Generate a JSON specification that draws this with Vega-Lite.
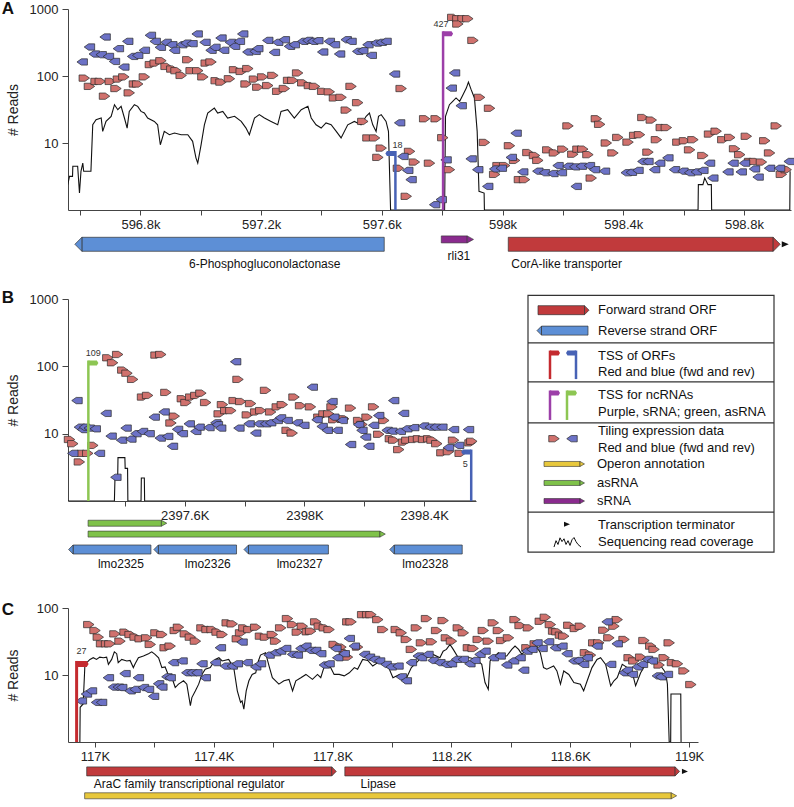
{
"$schema": "https://vega.github.io/schema/vega-lite/v6.json",
"background": "white",
"padding": {"left": 1, "top": 0, "right": 2, "bottom": 2},
"autosize": {"type": "pad"},
"bounds": "flush",
"spacing": 0,
"config": {
  "view": {"stroke": null},
  "font": "Liberation Sans",
  "axis": {"grid": false, "domainColor": "#444", "tickColor": "#444", "labelColor": "#222", "titleColor": "#222"},
  "axisY": {"tickSize": 6, "labelPadding": 4, "labelFontSize": 13, "titleFontSize": 14, "titleFontWeight": "normal", "titlePadding": 9},
  "axisX": {"tickSize": 5, "labelPadding": 3, "labelFontSize": 13}
},
"datasets": {
  "A_mk": [
    {"p":596614,"r":93,"s":"+"},{"p":596631,"r":70,"s":"+"},{"p":596653,"r":83,"s":"+"},{"p":596667,"r":83,"s":"+"},{"p":596681,"r":50,"s":"+"},{"p":596700,"r":83,"s":"+"},{"p":596719,"r":65,"s":"+"},{"p":596727,"r":90,"s":"+"},{"p":596745,"r":97,"s":"+"},{"p":596763,"r":56,"s":"+"},{"p":596780,"r":76,"s":"+"},{"p":596791,"r":76,"s":"+"},{"p":596813,"r":97,"s":"+"},{"p":596833,"r":148,"s":"+"},{"p":596849,"r":156,"s":"+"},{"p":596868,"r":169,"s":"+"},{"p":596885,"r":139,"s":"+"},{"p":596904,"r":127,"s":"+"},{"p":596918,"r":120,"s":"+"},{"p":596935,"r":102,"s":"+"},{"p":596957,"r":175,"s":"+"},{"p":596968,"r":120,"s":"+"},{"p":596990,"r":120,"s":"+"},{"p":597007,"r":97,"s":"+"},{"p":597018,"r":156,"s":"+"},{"p":597034,"r":162,"s":"+"},{"p":597051,"r":85,"s":"+"},{"p":597067,"r":81,"s":"+"},{"p":597095,"r":91,"s":"+"},{"p":597112,"r":124,"s":"+"},{"p":597134,"r":117,"s":"+"},{"p":597156,"r":129,"s":"+"},{"p":597150,"r":76,"s":"+"},{"p":597178,"r":90,"s":"+"},{"p":597189,"r":68,"s":"+"},{"p":597205,"r":97,"s":"+"},{"p":597222,"r":72,"s":"+"},{"p":597239,"r":102,"s":"+"},{"p":597255,"r":59,"s":"+"},{"p":597277,"r":65,"s":"+"},{"p":597291,"r":86,"s":"+"},{"p":597305,"r":86,"s":"+"},{"p":597321,"r":111,"s":"+"},{"p":597338,"r":79,"s":"+"},{"p":597360,"r":72,"s":"+"},{"p":597377,"r":70,"s":"+"},{"p":597404,"r":59,"s":"+"},{"p":597426,"r":58,"s":"+"},{"p":597443,"r":47,"s":"+"},{"p":597465,"r":48,"s":"+"},{"p":597482,"r":31,"s":"+"},{"p":597498,"r":70,"s":"+"},{"p":597520,"r":40,"s":"+"},{"p":597537,"r":21,"s":"+"},{"p":597554,"r":11.9,"s":"+"},{"p":597576,"r":11.9,"s":"+"},{"p":597598,"r":8.4,"s":"+"},{"p":597587,"r":6.1,"s":"+"},{"p":597655,"r":4.2,"s":"+"},
    {"p":597835,"r":750,"s":"+"},{"p":597852,"r":716,"s":"+"},{"p":597869,"r":716,"s":"+"},{"p":597885,"r":716,"s":"+"},{"p":597852,"r":597,"s":"+"},{"p":597902,"r":340,"s":"+"},{"p":597664,"r":65,"s":"+"},{"p":597742,"r":23,"s":"+"},{"p":597780,"r":23,"s":"+"},{"p":597924,"r":48,"s":"+"},{"p":597957,"r":33,"s":"+"},{"p":597802,"r":12,"s":"+"},{"p":597692,"r":7.5,"s":"+"},{"p":597708,"r":5.2,"s":"+"},{"p":597758,"r":5.0,"s":"+"},{"p":597940,"r":10.2,"s":"+"},{"p":597824,"r":4.0,"s":"+"},{"p":597681,"r":1.6,"s":"+"},{"p":598217,"r":18,"s":"+"},{"p":598311,"r":23,"s":"+"},{"p":598322,"r":19,"s":"+"},{"p":598465,"r":24,"s":"+"},{"p":598493,"r":22,"s":"+"},{"p":598526,"r":17,"s":"+"},{"p":598543,"r":17,"s":"+"},{"p":598023,"r":9.1,"s":"+"},{"p":598084,"r":7.2,"s":"+"},{"p":598106,"r":6.5,"s":"+"},{"p":598150,"r":7.9,"s":"+"},{"p":598172,"r":7.1,"s":"+"},{"p":598200,"r":8.1,"s":"+"},{"p":598233,"r":6.8,"s":"+"},{"p":598250,"r":8.1,"s":"+"},{"p":598266,"r":8.1,"s":"+"},{"p":598283,"r":6.7,"s":"+"},{"p":598294,"r":3.0,"s":"+"},{"p":598344,"r":10,"s":"+"},{"p":598366,"r":7.1,"s":"+"},{"p":598382,"r":12.1,"s":"+"},{"p":598416,"r":10.3,"s":"+"},{"p":598438,"r":13,"s":"+"},{"p":598454,"r":13.3,"s":"+"},{"p":598482,"r":7.3,"s":"+"},{"p":598510,"r":11.2,"s":"+"},{"p":598581,"r":10.3,"s":"+"},{"p":598603,"r":10.8,"s":"+"},{"p":598631,"r":11.2,"s":"+"},{"p":598620,"r":7.9,"s":"+"},{"p":598664,"r":6.5,"s":"+"},{"p":598686,"r":13.6,"s":"+"},{"p":598708,"r":15,"s":"+"},{"p":598730,"r":11.2,"s":"+"},{"p":598753,"r":12.1,"s":"+"},{"p":598769,"r":8.2,"s":"+"},{"p":598786,"r":6.7,"s":"+"},{"p":598808,"r":12.6,"s":"+"},{"p":598819,"r":5.3,"s":"+"},{"p":598835,"r":5.3,"s":"+"},{"p":598858,"r":5.2,"s":"+"},{"p":598869,"r":10.8,"s":"+"},{"p":598885,"r":7.1,"s":"+"},{"p":598907,"r":18,"s":"+"},{"p":598924,"r":3.4,"s":"+"},{"p":598940,"r":4.0,"s":"+"},{"p":598056,"r":2.84,"s":"+"},{"p":598073,"r":2.84,"s":"+"},{"p":597985,"r":4.6,"s":"+"},{"p":598007,"r":4.6,"s":"+"},{"p":598040,"r":5.5,"s":"+"},{"p":598117,"r":5.5,"s":"+"},{"p":597974,"r":3.4,"s":"+"},
    {"p":596607,"r":162,"s":"-"},{"p":596631,"r":271,"s":"-"},{"p":596647,"r":213,"s":"-"},{"p":596670,"r":208,"s":"-"},{"p":596683,"r":382,"s":"-"},{"p":596694,"r":196,"s":"-"},{"p":596714,"r":165,"s":"-"},{"p":596727,"r":256,"s":"-"},{"p":596745,"r":136,"s":"-"},{"p":596758,"r":329,"s":"-"},{"p":596774,"r":196,"s":"-"},{"p":596791,"r":203,"s":"-"},{"p":596813,"r":242,"s":"-"},{"p":596833,"r":405,"s":"-"},{"p":596849,"r":329,"s":"-"},{"p":596866,"r":268,"s":"-"},{"p":596885,"r":318,"s":"-"},{"p":596904,"r":293,"s":"-"},{"p":596913,"r":242,"s":"-"},{"p":596937,"r":293,"s":"-"},{"p":596951,"r":310,"s":"-"},{"p":596971,"r":304,"s":"-"},{"p":596988,"r":424,"s":"-"},{"p":597014,"r":318,"s":"-"},{"p":597034,"r":242,"s":"-"},{"p":597047,"r":268,"s":"-"},{"p":597067,"r":369,"s":"-"},{"p":597076,"r":242,"s":"-"},{"p":597098,"r":318,"s":"-"},{"p":597112,"r":277,"s":"-"},{"p":597128,"r":329,"s":"-"},{"p":597139,"r":424,"s":"-"},{"p":597156,"r":228,"s":"-"},{"p":597180,"r":233,"s":"-"},{"p":597189,"r":256,"s":"-"},{"p":597222,"r":340,"s":"-"},{"p":597244,"r":225,"s":"-"},{"p":597255,"r":318,"s":"-"},{"p":597277,"r":348,"s":"-"},{"p":597294,"r":277,"s":"-"},{"p":597310,"r":293,"s":"-"},{"p":597338,"r":329,"s":"-"},{"p":597355,"r":340,"s":"-"},{"p":597371,"r":329,"s":"-"},{"p":597388,"r":337,"s":"-"},{"p":597404,"r":228,"s":"-"},{"p":597426,"r":329,"s":"-"},{"p":597443,"r":293,"s":"-"},{"p":597460,"r":213,"s":"-"},{"p":597482,"r":348,"s":"-"},{"p":597498,"r":329,"s":"-"},{"p":597520,"r":233,"s":"-"},{"p":597537,"r":239,"s":"-"},{"p":597554,"r":293,"s":"-"},{"p":597565,"r":203,"s":"-"},{"p":597581,"r":310,"s":"-"},{"p":597598,"r":318,"s":"-"},{"p":597614,"r":329,"s":"-"},
    {"p":597642,"r":107,"s":"-"},{"p":597659,"r":20,"s":"-"},{"p":597670,"r":6.3,"s":"-"},{"p":597686,"r":3.9,"s":"-"},{"p":597697,"r":2.84,"s":"-"},{"p":597841,"r":111,"s":"-"},{"p":597830,"r":66,"s":"-"},{"p":597863,"r":36,"s":"-"},{"p":597813,"r":5.6,"s":"-"},{"p":597896,"r":5.8,"s":"-"},{"p":597918,"r":4.0,"s":"-"},{"p":597951,"r":2.25,"s":"-"},{"p":598045,"r":14,"s":"-"},{"p":598029,"r":6.1,"s":"-"},{"p":598067,"r":3.7,"s":"-"},{"p":597974,"r":4.1,"s":"-"},{"p":597996,"r":4.2,"s":"-"},{"p":598117,"r":3.8,"s":"-"},{"p":598139,"r":3.6,"s":"-"},{"p":598167,"r":3.5,"s":"-"},{"p":598184,"r":4.6,"s":"-"},{"p":598195,"r":3.6,"s":"-"},{"p":598217,"r":4.5,"s":"-"},{"p":598239,"r":4.4,"s":"-"},{"p":598261,"r":4.5,"s":"-"},{"p":598288,"r":4.6,"s":"-"},{"p":598305,"r":4.0,"s":"-"},{"p":598338,"r":3.8,"s":"-"},{"p":598244,"r":2.25,"s":"-"},{"p":597775,"r":1.2,"s":"-"},{"p":597797,"r":1.43,"s":"-"},{"p":598410,"r":3.6,"s":"-"},{"p":598427,"r":3.65,"s":"-"},{"p":598449,"r":3.9,"s":"-"},{"p":598465,"r":5.3,"s":"-"},{"p":598482,"r":5.3,"s":"-"},{"p":598504,"r":4.0,"s":"-"},{"p":598521,"r":5.0,"s":"-"},{"p":598548,"r":6.0,"s":"-"},{"p":598570,"r":4.0,"s":"-"},{"p":598598,"r":3.8,"s":"-"},{"p":598620,"r":3.6,"s":"-"},{"p":598642,"r":3.7,"s":"-"},{"p":598664,"r":3.9,"s":"-"},{"p":598686,"r":5.0,"s":"-"},{"p":598697,"r":3.0,"s":"-"},{"p":598747,"r":3.7,"s":"-"},{"p":598764,"r":5.0,"s":"-"},{"p":598791,"r":3.7,"s":"-"},{"p":598802,"r":5.0,"s":"-"},{"p":598835,"r":4.1,"s":"-"},{"p":598847,"r":3.1,"s":"-"},{"p":598885,"r":4.2,"s":"-"},{"p":598918,"r":4.2,"s":"-"},{"p":598950,"r":5.3,"s":"-"}
  ],
  "A_cov": [
    {"p":596559,"r":2.39},{"p":596565,"r":3.18},{"p":596575,"r":3.18},{"p":596576,"r":4.49},{"p":596592,"r":4.49},{"p":596598,"r":1.79},{"p":596603,"r":3.78},{"p":596609,"r":5.0},{"p":596612,"r":3.78},{"p":596636,"r":3.78},{"p":596642,"r":18.7},{"p":596653,"r":22.3},{"p":596670,"r":23.6},{"p":596675,"r":14.9},{"p":596686,"r":21.0},{"p":596703,"r":25},{"p":596714,"r":37.3},{"p":596725,"r":31.4},{"p":596736,"r":35.2},{"p":596747,"r":23.6},{"p":596756,"r":16.7},{"p":596763,"r":29.6},{"p":596780,"r":37.3},{"p":596791,"r":35.2},{"p":596802,"r":29.6},{"p":596813,"r":28},{"p":596824,"r":23.6},{"p":596846,"r":21},{"p":596857,"r":18.7},{"p":596866,"r":9.4},{"p":596879,"r":14.9},{"p":596896,"r":13.3},{"p":596913,"r":14.1},{"p":596935,"r":13.3},{"p":596957,"r":13.3},{"p":596973,"r":10.6},{"p":596984,"r":6.0},{"p":596990,"r":5.0},{"p":597001,"r":9.4},{"p":597012,"r":18.7},{"p":597023,"r":28},{"p":597045,"r":33.2},{"p":597056,"r":28},{"p":597073,"r":29.6},{"p":597089,"r":23.6},{"p":597112,"r":25},{"p":597134,"r":21},{"p":597150,"r":16.7},{"p":597161,"r":13.3},{"p":597178,"r":23.6},{"p":597194,"r":26.5},{"p":597211,"r":23.6},{"p":597233,"r":21},{"p":597255,"r":18.7},{"p":597266,"r":29.6},{"p":597288,"r":31.4},{"p":597310,"r":23.6},{"p":597333,"r":31.4},{"p":597355,"r":35.2},{"p":597366,"r":23.6},{"p":597382,"r":18.7},{"p":597399,"r":16.7},{"p":597415,"r":19.9},{"p":597432,"r":18.7},{"p":597449,"r":14.9},{"p":597465,"r":11.9},{"p":597487,"r":18.7},{"p":597509,"r":21},{"p":597531,"r":18.7},{"p":597548,"r":25},{"p":597559,"r":28},{"p":597570,"r":18.7},{"p":597581,"r":14.9},{"p":597589,"r":25},{"p":597598,"r":26.5},{"p":597614,"r":21},{"p":597622,"r":14.9},{"p":597629,"r":1},{"p":597808,"r":1},{"p":597811,"r":25},{"p":597824,"r":37.3},{"p":597835,"r":41.9},{"p":597846,"r":47},{"p":597858,"r":41.9},{"p":597869,"r":52.6},{"p":597880,"r":66},{"p":597887,"r":81},{"p":597896,"r":62.5},{"p":597907,"r":47},{"p":597916,"r":14.9},{"p":597922,"r":1.9},{"p":597939,"r":1.79},{"p":597940,"r":1},{"p":598648,"r":1},{"p":598649,"r":2.39},{"p":598664,"r":2.39},{"p":598670,"r":3.0},{"p":598681,"r":2.39},{"p":598692,"r":2.39},{"p":598693,"r":1},{"p":598952,"r":1},{"p":598953,"r":3.78}
  ],
  "B_mk": [
    {"p":2397215,"r":8.2,"s":"+"},{"p":2397226,"r":7.1,"s":"+"},{"p":2397259,"r":5.1,"s":"+"},{"p":2397276,"r":5.1,"s":"+"},{"p":2397248,"r":3.8,"s":"+"},{"p":2397293,"r":6.7,"s":"+"},{"p":2397343,"r":134,"s":"+"},{"p":2397359,"r":113,"s":"+"},{"p":2397376,"r":150,"s":"+"},{"p":2397393,"r":88,"s":"+"},{"p":2397407,"r":79,"s":"+"},{"p":2397426,"r":64,"s":"+"},{"p":2397459,"r":35,"s":"+"},{"p":2397476,"r":37,"s":"+"},{"p":2397504,"r":147,"s":"+"},{"p":2397520,"r":150,"s":"+"},{"p":2397537,"r":41,"s":"+"},{"p":2397554,"r":14.4,"s":"+"},{"p":2397565,"r":18.2,"s":"+"},{"p":2397592,"r":33,"s":"+"},{"p":2397604,"r":29,"s":"+"},{"p":2397620,"r":35,"s":"+"},{"p":2397637,"r":37,"s":"+"},{"p":2397654,"r":40,"s":"+"},{"p":2397670,"r":29,"s":"+"},{"p":2397726,"r":27,"s":"+"},{"p":2397715,"r":19.7,"s":"+"},{"p":2397737,"r":22,"s":"+"},{"p":2397754,"r":22,"s":"+"},{"p":2397765,"r":31,"s":"+"},{"p":2397778,"r":64,"s":"+"},{"p":2397787,"r":30,"s":"+"},{"p":2397809,"r":19,"s":"+"},{"p":2397820,"r":28,"s":"+"},{"p":2397837,"r":21,"s":"+"},{"p":2397854,"r":22,"s":"+"},{"p":2397870,"r":44,"s":"+"},{"p":2397887,"r":21,"s":"+"},{"p":2397909,"r":25,"s":"+"},{"p":2397926,"r":27,"s":"+"},{"p":2397942,"r":11.2,"s":"+"},{"p":2397959,"r":10.2,"s":"+"},{"p":2397965,"r":35,"s":"+"},{"p":2397987,"r":26,"s":"+"},{"p":2398020,"r":25,"s":"+"},{"p":2398048,"r":17.6,"s":"+"},{"p":2398065,"r":19.7,"s":"+"},{"p":2398081,"r":19.7,"s":"+"},{"p":2398092,"r":25,"s":"+"},{"p":2398098,"r":16.1,"s":"+"},{"p":2398126,"r":16.3,"s":"+"},{"p":2398131,"r":16.6,"s":"+"},{"p":2398154,"r":24,"s":"+"},{"p":2398181,"r":15.7,"s":"+"},{"p":2398192,"r":13.7,"s":"+"},{"p":2398209,"r":17.6,"s":"+"},{"p":2398231,"r":25,"s":"+"},{"p":2398248,"r":9.8,"s":"+"},{"p":2398265,"r":15.7,"s":"+"},{"p":2398287,"r":8.4,"s":"+"},{"p":2398298,"r":8.0,"s":"+"},{"p":2398315,"r":5.8,"s":"+"},{"p":2398331,"r":7.5,"s":"+"},{"p":2398342,"r":8.0,"s":"+"},{"p":2398365,"r":8.2,"s":"+"},{"p":2398381,"r":8.4,"s":"+"},{"p":2398398,"r":8.2,"s":"+"},{"p":2398415,"r":8.4,"s":"+"},{"p":2398426,"r":8.0,"s":"+"},{"p":2398442,"r":7.1,"s":"+"},{"p":2398459,"r":5.2,"s":"+"},{"p":2398481,"r":5.4,"s":"+"},{"p":2398498,"r":8.0,"s":"+"},{"p":2398520,"r":5.1,"s":"+"},{"p":2398553,"r":7.3,"s":"+"},{"p":2398559,"r":7.7,"s":"+"},
    {"p":2397240,"r":31,"s":"-"},{"p":2397248,"r":12.5,"s":"-"},{"p":2397259,"r":11.5,"s":"-"},{"p":2397265,"r":12.5,"s":"-"},{"p":2397281,"r":12.1,"s":"-"},{"p":2397301,"r":11.8,"s":"-"},{"p":2397226,"r":5.1,"s":"-"},{"p":2397315,"r":5.1,"s":"-"},{"p":2397337,"r":20,"s":"-"},{"p":2397354,"r":9.2,"s":"-"},{"p":2397370,"r":2.25,"s":"-"},{"p":2397389,"r":8.0,"s":"-"},{"p":2397404,"r":12.1,"s":"-"},{"p":2397420,"r":8.3,"s":"-"},{"p":2397437,"r":10.0,"s":"-"},{"p":2397459,"r":10.8,"s":"-"},{"p":2397481,"r":10.0,"s":"-"},{"p":2397498,"r":17.6,"s":"-"},{"p":2397518,"r":8.6,"s":"-"},{"p":2397531,"r":21,"s":"-"},{"p":2397543,"r":9.1,"s":"-"},{"p":2397559,"r":6.5,"s":"-"},{"p":2397576,"r":11.6,"s":"-"},{"p":2397592,"r":10.0,"s":"-"},{"p":2397615,"r":14.0,"s":"-"},{"p":2397637,"r":10.8,"s":"-"},{"p":2397648,"r":12.5,"s":"-"},{"p":2397681,"r":12.3,"s":"-"},{"p":2397704,"r":14.5,"s":"-"},{"p":2397709,"r":13.6,"s":"-"},{"p":2397720,"r":12.1,"s":"-"},{"p":2397770,"r":117,"s":"-"},{"p":2397781,"r":12.1,"s":"-"},{"p":2397815,"r":14.0,"s":"-"},{"p":2397837,"r":10.2,"s":"-"},{"p":2397848,"r":14.0,"s":"-"},{"p":2397870,"r":14.0,"s":"-"},{"p":2397887,"r":14.5,"s":"-"},{"p":2397909,"r":15.7,"s":"-"},{"p":2397920,"r":17.2,"s":"-"},{"p":2397942,"r":15.7,"s":"-"},{"p":2397976,"r":14.5,"s":"-"},{"p":2397998,"r":13.3,"s":"-"},{"p":2398026,"r":49,"s":"-"},{"p":2398042,"r":16.1,"s":"-"},{"p":2398059,"r":12.8,"s":"-"},{"p":2398076,"r":11.2,"s":"-"},{"p":2398092,"r":30,"s":"-"},{"p":2398098,"r":17.6,"s":"-"},{"p":2398109,"r":11.2,"s":"-"},{"p":2398126,"r":15.7,"s":"-"},{"p":2398154,"r":6.9,"s":"-"},{"p":2398181,"r":13.6,"s":"-"},{"p":2398192,"r":11.2,"s":"-"},{"p":2398204,"r":8.9,"s":"-"},{"p":2398215,"r":6.5,"s":"-"},{"p":2398231,"r":13.3,"s":"-"},{"p":2398248,"r":18.6,"s":"-"},{"p":2398276,"r":11.2,"s":"-"},{"p":2398298,"r":31,"s":"-"},{"p":2398292,"r":10.9,"s":"-"},{"p":2398320,"r":10.8,"s":"-"},{"p":2398331,"r":20,"s":"-"},{"p":2398342,"r":11.8,"s":"-"},{"p":2398365,"r":12.3,"s":"-"},{"p":2398398,"r":13.0,"s":"-"},{"p":2398420,"r":12.5,"s":"-"},{"p":2398437,"r":12.5,"s":"-"},{"p":2398459,"r":12.5,"s":"-"},{"p":2398481,"r":6.2,"s":"-"},{"p":2398498,"r":11.5,"s":"-"},{"p":2398515,"r":6.7,"s":"-"},{"p":2398548,"r":11.5,"s":"-"}
  ],
  "B_cov": [
    {"p":2397210,"r":1},{"p":2397365,"r":1},{"p":2397367,"r":2.25},{"p":2397376,"r":2.25},{"p":2397377,"r":4.4},{"p":2397400,"r":4.4},{"p":2397401,"r":3.05},{"p":2397409,"r":3.05},{"p":2397410,"r":1},{"p":2397454,"r":1},{"p":2397455,"r":2.2},{"p":2397465,"r":2.2},{"p":2397466,"r":1},{"p":2398573,"r":1}
  ],
  "C_mk": [
    {"p":116979,"r":56.6,"s":"+"},{"p":117000,"r":46.1,"s":"+"},{"p":117011,"r":36.7,"s":"+"},{"p":117022,"r":29.2,"s":"+"},{"p":117039,"r":29.2,"s":"+"},{"p":117050,"r":29.2,"s":"+"},{"p":117067,"r":41.1,"s":"+"},{"p":117084,"r":32.0,"s":"+"},{"p":117101,"r":43.6,"s":"+"},{"p":117118,"r":40.2,"s":"+"},{"p":117135,"r":36.7,"s":"+"},{"p":117152,"r":34.7,"s":"+"},{"p":117174,"r":35.9,"s":"+"},{"p":117186,"r":28.6,"s":"+"},{"p":117205,"r":42.6,"s":"+"},{"p":117225,"r":40.2,"s":"+"},{"p":117236,"r":25.5,"s":"+"},{"p":117253,"r":27.0,"s":"+"},{"p":117270,"r":46.1,"s":"+"},{"p":117281,"r":51.7,"s":"+"},{"p":117304,"r":41.1,"s":"+"},{"p":117321,"r":36.7,"s":"+"},{"p":117338,"r":32.0,"s":"+"},{"p":117360,"r":50.5,"s":"+"},{"p":117377,"r":47.7,"s":"+"},{"p":117394,"r":47.7,"s":"+"},{"p":117411,"r":43.6,"s":"+"},{"p":117428,"r":40.2,"s":"+"},{"p":117445,"r":60.0,"s":"+"},{"p":117462,"r":57.9,"s":"+"},{"p":117479,"r":34.7,"s":"+"},{"p":117490,"r":42.6,"s":"+"},{"p":117501,"r":50.5,"s":"+"},{"p":117518,"r":47.7,"s":"+"},{"p":117541,"r":51.7,"s":"+"},{"p":117557,"r":38.0,"s":"+"},{"p":117574,"r":36.7,"s":"+"},{"p":117597,"r":40.2,"s":"+"},{"p":117608,"r":32.0,"s":"+"},{"p":117625,"r":50.5,"s":"+"},{"p":117648,"r":69.5,"s":"+"},{"p":117665,"r":56.6,"s":"+"},{"p":117681,"r":43.6,"s":"+"},{"p":117698,"r":53.5,"s":"+"},{"p":117715,"r":44.1,"s":"+"},{"p":117726,"r":45.1,"s":"+"},{"p":117743,"r":62.1,"s":"+"},{"p":117755,"r":53.5,"s":"+"},{"p":117772,"r":50.5,"s":"+"},{"p":117788,"r":47.7,"s":"+"},{"p":117805,"r":28.6,"s":"+"},{"p":117828,"r":26.1,"s":"+"},{"p":117850,"r":18.5,"s":"+"},{"p":117839,"r":21.5,"s":"+"},{"p":117851,"r":62.1,"s":"+"},{"p":117862,"r":62.1,"s":"+"},{"p":117884,"r":26.1,"s":"+"},{"p":117901,"r":79.6,"s":"+"},{"p":117918,"r":79.6,"s":"+"},{"p":117929,"r":79.6,"s":"+"},{"p":117952,"r":67.1,"s":"+"},{"p":117969,"r":47.7,"s":"+"},
    {"p":118014,"r":47.7,"s":"+"},{"p":118031,"r":42.6,"s":"+"},{"p":118048,"r":33.9,"s":"+"},{"p":118065,"r":24.1,"s":"+"},{"p":118082,"r":50.5,"s":"+"},{"p":118099,"r":30.2,"s":"+"},{"p":118116,"r":69.5,"s":"+"},{"p":118133,"r":31.3,"s":"+"},{"p":118150,"r":46.1,"s":"+"},{"p":118172,"r":64.9,"s":"+"},{"p":118183,"r":35.9,"s":"+"},{"p":118200,"r":32.0,"s":"+"},{"p":118223,"r":50.5,"s":"+"},{"p":118240,"r":42.6,"s":"+"},{"p":118257,"r":25.5,"s":"+"},{"p":118273,"r":24.9,"s":"+"},{"p":118290,"r":33.9,"s":"+"},{"p":118307,"r":46.1,"s":"+"},{"p":118324,"r":32.0,"s":"+"},{"p":118341,"r":60.0,"s":"+"},{"p":118358,"r":46.1,"s":"+"},{"p":118369,"r":32.7,"s":"+"},{"p":118392,"r":35.9,"s":"+"},{"p":118414,"r":67.1,"s":"+"},{"p":118431,"r":54.7,"s":"+"},{"p":118459,"r":50.5,"s":"+"},{"p":118454,"r":25.5,"s":"+"},{"p":118482,"r":29.2,"s":"+"},{"p":118499,"r":63.4,"s":"+"},{"p":118516,"r":72.7,"s":"+"},{"p":118533,"r":56.6,"s":"+"},{"p":118544,"r":45.1,"s":"+"},{"p":118555,"r":44.1,"s":"+"},{"p":118567,"r":39.3,"s":"+"},{"p":118578,"r":38.0,"s":"+"},{"p":118595,"r":55.3,"s":"+"},{"p":118617,"r":49.4,"s":"+"},{"p":118634,"r":53.5,"s":"+"},{"p":118651,"r":21.5,"s":"+"},{"p":118668,"r":19.8,"s":"+"},{"p":118679,"r":30.2,"s":"+"},{"p":118696,"r":30.2,"s":"+"},{"p":118713,"r":46.6,"s":"+"},{"p":118730,"r":35.9,"s":"+"},{"p":118747,"r":53.5,"s":"+"},{"p":118758,"r":67.1,"s":"+"},{"p":118781,"r":33.9,"s":"+"},{"p":118798,"r":18.1,"s":"+"},{"p":118814,"r":16.2,"s":"+"},{"p":118837,"r":18.5,"s":"+"},{"p":118848,"r":32.7,"s":"+"},{"p":118871,"r":27.0,"s":"+"},{"p":118882,"r":24.1,"s":"+"},{"p":118899,"r":14.1,"s":"+"},{"p":118916,"r":18.1,"s":"+"},{"p":118933,"r":30.2,"s":"+"},{"p":118944,"r":15.3,"s":"+"},{"p":118961,"r":14.7,"s":"+"},{"p":118983,"r":11.5,"s":"+"},{"p":119006,"r":7.2,"s":"+"},
    {"p":116954,"r":4.1,"s":"-"},{"p":116971,"r":5.2,"s":"-"},{"p":116988,"r":5.8,"s":"-"},{"p":117005,"r":3.9,"s":"-"},{"p":117022,"r":3.9,"s":"-"},{"p":117045,"r":9.1,"s":"-"},{"p":117062,"r":6.6,"s":"-"},{"p":117078,"r":6.6,"s":"-"},{"p":117090,"r":6.5,"s":"-"},{"p":117101,"r":10.5,"s":"-"},{"p":117118,"r":5.8,"s":"-"},{"p":117135,"r":6.1,"s":"-"},{"p":117146,"r":9.1,"s":"-"},{"p":117163,"r":6.5,"s":"-"},{"p":117180,"r":6.1,"s":"-"},{"p":117197,"r":4.8,"s":"-"},{"p":117214,"r":7.4,"s":"-"},{"p":117225,"r":6.6,"s":"-"},{"p":117242,"r":9.4,"s":"-"},{"p":117253,"r":9.1,"s":"-"},{"p":117264,"r":15.3,"s":"-"},{"p":117293,"r":16.2,"s":"-"},{"p":117309,"r":10.8,"s":"-"},{"p":117326,"r":10.8,"s":"-"},{"p":117343,"r":10.8,"s":"-"},{"p":117360,"r":14.7,"s":"-"},{"p":117371,"r":9.1,"s":"-"},{"p":117405,"r":15.3,"s":"-"},{"p":117422,"r":25.5,"s":"-"},{"p":117439,"r":13.6,"s":"-"},{"p":117462,"r":13.6,"s":"-"},{"p":117479,"r":14.7,"s":"-"},{"p":117495,"r":31.0,"s":"-"},{"p":117512,"r":15.3,"s":"-"},{"p":117541,"r":13.2,"s":"-"},{"p":117557,"r":14.7,"s":"-"},{"p":117586,"r":19.8,"s":"-"},{"p":117608,"r":21.5,"s":"-"},{"p":117625,"r":22.7,"s":"-"},{"p":117642,"r":24.9,"s":"-"},{"p":117665,"r":20.3,"s":"-"},{"p":117681,"r":19.8,"s":"-"},{"p":117693,"r":24.9,"s":"-"},{"p":117710,"r":27.0,"s":"-"},{"p":117726,"r":23.3,"s":"-"},{"p":117743,"r":23.3,"s":"-"},{"p":117760,"r":20.8,"s":"-"},{"p":117772,"r":14.1,"s":"-"},{"p":117788,"r":14.7,"s":"-"},{"p":117811,"r":24.9,"s":"-"},{"p":117817,"r":18.1,"s":"-"},{"p":117839,"r":20.8,"s":"-"},{"p":117856,"r":35.1,"s":"-"},{"p":117873,"r":27.0,"s":"-"},{"p":117907,"r":20.3,"s":"-"},{"p":117924,"r":18.5,"s":"-"},{"p":117941,"r":17.1,"s":"-"},{"p":117958,"r":16.2,"s":"-"},{"p":117980,"r":14.4,"s":"-"},{"p":117997,"r":13.2,"s":"-"},
    {"p":118020,"r":13.6,"s":"-"},{"p":118031,"r":9.4,"s":"-"},{"p":118048,"r":8.2,"s":"-"},{"p":118065,"r":15.3,"s":"-"},{"p":118088,"r":19.2,"s":"-"},{"p":118099,"r":18.1,"s":"-"},{"p":118121,"r":20.3,"s":"-"},{"p":118138,"r":16.5,"s":"-"},{"p":118161,"r":15.3,"s":"-"},{"p":118183,"r":14.4,"s":"-"},{"p":118200,"r":14.7,"s":"-"},{"p":118217,"r":17.1,"s":"-"},{"p":118240,"r":17.1,"s":"-"},{"p":118262,"r":14.7,"s":"-"},{"p":118279,"r":16.5,"s":"-"},{"p":118296,"r":20.3,"s":"-"},{"p":118313,"r":22.7,"s":"-"},{"p":118341,"r":18.1,"s":"-"},{"p":118364,"r":19.2,"s":"-"},{"p":118386,"r":14.1,"s":"-"},{"p":118409,"r":16.2,"s":"-"},{"p":118443,"r":11.8,"s":"-"},{"p":118431,"r":18.1,"s":"-"},{"p":118454,"r":22.7,"s":"-"},{"p":118471,"r":24.1,"s":"-"},{"p":118488,"r":30.2,"s":"-"},{"p":118505,"r":24.9,"s":"-"},{"p":118527,"r":31.3,"s":"-"},{"p":118550,"r":25.5,"s":"-"},{"p":118572,"r":27.0,"s":"-"},{"p":118589,"r":20.8,"s":"-"},{"p":118612,"r":16.2,"s":"-"},{"p":118628,"r":16.5,"s":"-"},{"p":118645,"r":14.4,"s":"-"},{"p":118657,"r":18.1,"s":"-"},{"p":118690,"r":27.0,"s":"-"},{"p":118724,"r":62.1,"s":"-"},{"p":118736,"r":14.4,"s":"-"},{"p":118758,"r":29.2,"s":"-"},{"p":118781,"r":10.8,"s":"-"},{"p":118792,"r":11.8,"s":"-"},{"p":118809,"r":10.2,"s":"-"},{"p":118826,"r":13.2,"s":"-"},{"p":118843,"r":14.4,"s":"-"},{"p":118860,"r":17.1,"s":"-"},{"p":118876,"r":16.2,"s":"-"},{"p":118893,"r":9.7,"s":"-"},{"p":118905,"r":9.4,"s":"-"},{"p":118927,"r":10.2,"s":"-"}
  ],
  "C_cov": [
    {"p":116949,"r":1},{"p":116950,"r":3.3},{"p":116960,"r":3.7},{"p":116966,"r":14.4},{"p":116983,"r":17.1},{"p":116994,"r":18.1},{"p":117005,"r":17.1},{"p":117016,"r":18.5},{"p":117028,"r":18.1},{"p":117039,"r":18.5},{"p":117045,"r":14.4},{"p":117056,"r":17.1},{"p":117065,"r":22.2},{"p":117073,"r":20.8},{"p":117078,"r":15.3},{"p":117090,"r":17.1},{"p":117107,"r":16.2},{"p":117118,"r":16.5},{"p":117129,"r":12.9},{"p":117135,"r":14.7},{"p":117146,"r":18.1},{"p":117163,"r":19.2},{"p":117180,"r":20.8},{"p":117191,"r":22.2},{"p":117202,"r":20.3},{"p":117214,"r":18.1},{"p":117225,"r":12.9},{"p":117236,"r":13.2},{"p":117248,"r":9.7},{"p":117259,"r":9.1},{"p":117270,"r":6.5},{"p":117281,"r":7.3},{"p":117298,"r":8.2},{"p":117309,"r":7.3},{"p":117321,"r":3.5},{"p":117326,"r":4.6},{"p":117338,"r":5.8},{"p":117349,"r":7.3},{"p":117360,"r":10.2},{"p":117371,"r":12.2},{"p":117388,"r":12.9},{"p":117405,"r":17.1},{"p":117417,"r":18.1},{"p":117428,"r":16.2},{"p":117450,"r":17.1},{"p":117467,"r":12.9},{"p":117479,"r":5.8},{"p":117490,"r":3.9},{"p":117495,"r":4.1},{"p":117501,"r":3.1},{"p":117509,"r":5.8},{"p":117518,"r":8.2},{"p":117529,"r":10.2},{"p":117541,"r":10.8},{"p":117550,"r":16.2},{"p":117557,"r":19.8},{"p":117574,"r":21.5},{"p":117586,"r":13.6},{"p":117597,"r":9.1},{"p":117608,"r":8.2},{"p":117619,"r":7.3},{"p":117636,"r":8.2},{"p":117653,"r":8.6},{"p":117665,"r":5.8},{"p":117676,"r":8.2},{"p":117693,"r":9.1},{"p":117710,"r":10.2},{"p":117732,"r":8.6},{"p":117749,"r":10.2},{"p":117760,"r":9.1},{"p":117772,"r":13.6},{"p":117788,"r":14.4},{"p":117805,"r":10.2},{"p":117822,"r":10.2},{"p":117839,"r":9.7},{"p":117856,"r":10.8},{"p":117873,"r":12.9},{"p":117884,"r":12.2},{"p":117901,"r":17.1},{"p":117918,"r":16.5},{"p":117935,"r":13.6},{"p":117952,"r":15.3},{"p":117974,"r":14.4},{"p":117991,"r":12.2},{"p":118003,"r":9.1},{"p":118025,"r":10.2},{"p":118042,"r":7.7},{"p":118054,"r":10.2},{"p":118065,"r":12.9},{"p":118093,"r":17.1},{"p":118116,"r":18.1},{"p":118138,"r":20.3},{"p":118161,"r":18.1},{"p":118172,"r":22.7},{"p":118183,"r":24.1},{"p":118195,"r":28.6},{"p":118206,"r":24.1},{"p":118223,"r":18.1},{"p":118240,"r":18.1},{"p":118262,"r":18.1},{"p":118285,"r":17.1},{"p":118302,"r":14.4},{"p":118313,"r":7.7},{"p":118324,"r":6.1},{"p":118330,"r":16.2},{"p":118341,"r":18.1},{"p":118358,"r":21.5},{"p":118375,"r":19.2},{"p":118386,"r":19.2},{"p":118403,"r":24.1},{"p":118414,"r":27.0},{"p":118426,"r":24.1},{"p":118437,"r":20.3},{"p":118454,"r":24.1},{"p":118471,"r":25.5},{"p":118482,"r":28.6},{"p":118499,"r":21.5},{"p":118510,"r":12.9},{"p":118521,"r":12.2},{"p":118544,"r":13.6},{"p":118555,"r":11.5},{"p":118567,"r":7.3},{"p":118578,"r":11.5},{"p":118595,"r":10.2},{"p":118612,"r":7.7},{"p":118634,"r":7.3},{"p":118645,"r":5.8},{"p":118657,"r":8.2},{"p":118673,"r":12.9},{"p":118690,"r":17.1},{"p":118702,"r":18.1},{"p":118719,"r":14.4},{"p":118736,"r":6.9},{"p":118747,"r":8.2},{"p":118758,"r":9.1},{"p":118775,"r":14.4},{"p":118792,"r":12.9},{"p":118809,"r":10.8},{"p":118820,"r":6.9},{"p":118837,"r":10.8},{"p":118860,"r":16.2},{"p":118876,"r":18.1},{"p":118888,"r":16.2},{"p":118905,"r":13.6},{"p":118921,"r":10.8},{"p":118927,"r":7.3},{"p":118933,"r":1},{"p":118938,"r":1},{"p":118939,"r":5.2},{"p":118972,"r":5.2},{"p":118973,"r":1}
  ],
  "A_genes": [
    {"name":"6-Phosphogluconolactonase","start":596606,"end":597608,"tip":596606,"s":"-","col":"rev","lane":33,"lx":596961,"ly":55},
    {"name":"rli31","start":597797,"end":597883,"tip":597883,"s":"+","col":"sRNA","lane":27.5,"lx":597818,"ly":46},
    {"name":"CorA-like transporter","start":598019,"end":598897,"tip":598897,"s":"+","col":"fwd","lane":33,"lx":598029,"ly":55}
  ],
  "B_genes": [
    {"start":2397277,"end":2397522,"tip":2397522,"s":"+","col":"asRNA","lane":19},
    {"start":2397277,"end":2398252,"tip":2398252,"s":"+","col":"asRNA","lane":31},
    {"name":"lmo2325","start":2397227,"end":2397487,"tip":2397227,"s":"-","col":"rev","lane":48,"lx":2397310,"ly":64},
    {"name":"lmo2326","start":2397512,"end":2397773,"tip":2397512,"s":"-","col":"rev","lane":48,"lx":2397600,"ly":64},
    {"name":"lmo2327","start":2397813,"end":2398080,"tip":2397813,"s":"-","col":"rev","lane":48,"lx":2397907,"ly":64},
    {"name":"lmo2328","start":2398300,"end":2398527,"tip":2398300,"s":"-","col":"rev","lane":48,"lx":2398327,"ly":64}
  ],
  "C_genes": [
    {"name":"AraC family transcriptional regulator","start":116972,"end":117797,"tip":117797,"s":"+","col":"fwd","lane":29,"lx":116996,"ly":44},
    {"name":"Lipase","start":117841,"end":118953,"tip":118953,"s":"+","col":"fwd","lane":29,"lx":117894,"ly":44},
    {"start":116965,"end":118940,"tip":118940,"s":"+","col":"operon","lane":58}
  ]
},
"vconcat": [
  {
    "width": 723, "height": 201,
    "layer": [
      {"data": {"name": "A_cov"}, "mark": {"type": "line", "color": "#111", "strokeWidth": 1.1, "clip": true},
       "encoding": {
         "x": {"field": "p", "type": "quantitative", "scale": {"domain": [596560, 598956], "nice": false, "zero": false},
               "axis": {"title": null, "values": [596600,596800,597000,597200,597400,597600,597800,598000,598200,598400,598600,598800], "labelExpr": "(datum.value - 596800) % 400 === 0 ? format(datum.value/1000, '.1~f') + 'k' : ''", "labelFlush": false}},
         "y": {"field": "r", "type": "quantitative", "scale": {"type": "log", "domain": [1, 1000], "nice": false},
               "axis": {"title": "# Reads", "values": [10, 100, 1000], "format": "d"}}}},
      {"data": {"name": "A_mk"}, "mark": {"type": "point", "filled": true, "size": 110, "stroke": "#2a2a2a", "strokeWidth": 0.7, "opacity": 1},
       "encoding": {
         "x": {"field": "p", "type": "quantitative"}, "y": {"field": "r", "type": "quantitative"},
         "shape": {"field": "s", "type": "nominal", "scale": {"domain": ["+", "-"], "range": ["M-1,-0.6 L0.15,-0.6 L1,0 L0.15,0.6 L-1,0.6 Z", "M1,-0.6 L-0.15,-0.6 L-1,0 L-0.15,0.6 L1,0.6 Z"]}, "legend": null},
         "fill": {"field": "s", "type": "nominal", "scale": {"domain": ["+", "-"], "range": ["#d0716d", "#6c72c6"]}, "legend": null}}},
      {"data": {"values": [{"p": 597645, "h": 7.6, "k": "rev"}, {"p": 597803, "h": 465, "k": "sRNA"}]},
       "layer": [
         {"mark": {"type": "rule", "strokeWidth": 2.5},
          "encoding": {"x": {"field": "p", "type": "quantitative"}, "y": {"field": "h", "type": "quantitative"}, "y2": {"datum": 1},
                       "stroke": {"field": "k", "type": "nominal", "scale": {"domain": ["fwd", "rev", "sRNA", "asRNA"], "range": ["#c42a2f", "#4762b5", "#9c3fa8", "#8dc653"]}, "legend": null}}},
         {"mark": {"type": "point", "filled": true, "size": 400, "opacity": 1, "strokeWidth": 0},
          "encoding": {"x": {"field": "p", "type": "quantitative"}, "y": {"field": "h", "type": "quantitative"},
                       "shape": {"field": "k", "type": "nominal", "scale": {"domain": ["fwd", "rev", "sRNA", "asRNA"], "range": ["M0,0 L0.85,0 L1,0.25 L0.85,0.5 L0,0.5 Z", "M0,0 L-0.85,0 L-1,0.25 L-0.85,0.5 L0,0.5 Z", "M0,0 L0.85,0 L1,0.25 L0.85,0.5 L0,0.5 Z", "M0,0 L0.85,0 L1,0.25 L0.85,0.5 L0,0.5 Z"]}, "legend": null},
                       "fill": {"field": "k", "type": "nominal", "scale": {"domain": ["fwd", "rev", "sRNA", "asRNA"], "range": ["#c42a2f", "#4762b5", "#9c3fa8", "#8dc653"]}, "legend": null}}}
       ],
       "resolve": {"scale": {"shape": "independent", "fill": "independent"}}},
      {"data": {"values": [{}]}, "mark": {"type": "text", "text": "18", "fontSize": 9, "dx": 2, "dy": -6, "color": "#333"},
       "encoding": {"x": {"datum": 597645}, "y": {"datum": 7.6}}},
      {"data": {"values": [{}]}, "mark": {"type": "text", "text": "427", "fontSize": 9, "dx": -2, "dy": -7, "color": "#333"},
       "encoding": {"x": {"datum": 597803}, "y": {"datum": 465}}},
      {"data": {"values": [{}]}, "mark": {"type": "text", "text": "A", "fontSize": 17, "fontWeight": "bold", "dx": -60, "dy": 0, "align": "center", "baseline": "middle", "color": "#111"},
       "encoding": {"x": {"datum": 596560}, "y": {"datum": 1000}}}
    ],
    "resolve": {"scale": {"shape": "independent", "fill": "independent"}}
  },
  {
    "width": 723, "height": 89,
    "data": {"name": "A_genes"},
    "layer": [
      {"transform": [{"filter": "datum.col == 'fwd' || datum.col == 'rev'"}],
       "mark": {"type": "bar", "stroke": "#333", "strokeWidth": 0.7},
       "encoding": {"x": {"field": "start", "type": "quantitative", "scale": {"domain": [596560, 598956], "nice": false, "zero": false}, "axis": null},
                    "x2": {"field": "end"},
                    "y": {"field": "lane", "type": "quantitative", "scale": {"domain": [0, 89], "reverse": true, "nice": false, "zero": false}, "axis": null},
                    "size": {"value": 14},
                    "fill": {"field": "col", "type": "nominal", "scale": {"domain": ["fwd", "rev", "sRNA", "asRNA", "operon"], "range": ["#c13a3c", "#5d8fd6", "#8a2b8e", "#7fc24a", "#e8c83c"]}, "legend": null}}},
      {"transform": [{"filter": "datum.col != 'fwd' && datum.col != 'rev'"}],
       "mark": {"type": "bar", "stroke": "#333", "strokeWidth": 0.6},
       "encoding": {"x": {"field": "start", "type": "quantitative"}, "x2": {"field": "end"}, "y": {"field": "lane", "type": "quantitative"},
                    "size": {"value": 7},
                    "fill": {"field": "col", "type": "nominal", "legend": null}}},
      {"transform": [{"filter": "datum.col == 'fwd' || datum.col == 'rev'"}],
       "mark": {"type": "point", "filled": true, "size": 196, "stroke": "#333", "strokeWidth": 0.7, "opacity": 1},
       "encoding": {"x": {"field": "tip", "type": "quantitative"}, "y": {"field": "lane", "type": "quantitative"},
                    "shape": {"field": "s", "type": "nominal", "scale": {"domain": ["+", "-"], "range": ["M0,-1 L1,0 L0,1 Z", "M0,-1 L-1,0 L0,1 Z"]}, "legend": null},
                    "fill": {"field": "col", "type": "nominal", "legend": null}}},
      {"transform": [{"filter": "datum.col != 'fwd' && datum.col != 'rev'"}],
       "mark": {"type": "point", "filled": true, "size": 49, "stroke": "#333", "strokeWidth": 0.6, "opacity": 1},
       "encoding": {"x": {"field": "tip", "type": "quantitative"}, "y": {"field": "lane", "type": "quantitative"},
                    "shape": {"field": "s", "type": "nominal", "scale": {"domain": ["+", "-"], "range": ["M0,-1 L1.8,0 L0,1 Z", "M0,-1 L-1.8,0 L0,1 Z"]}, "legend": null},
                    "fill": {"field": "col", "type": "nominal", "legend": null}}},
      {"transform": [{"filter": "isValid(datum.lx)"}],
       "mark": {"type": "text", "align": "left", "baseline": "middle", "fontSize": 12, "color": "#111"},
       "encoding": {"x": {"field": "lx", "type": "quantitative"}, "y": {"field": "ly", "type": "quantitative"}, "text": {"field": "name"}}},
      {"data": {"values": [{"p": 598937, "lane": 33}]},
       "mark": {"type": "point", "filled": true, "shape": "M-1,-0.85 L1,0 L-1,0.85 Z", "size": 49, "color": "#111", "opacity": 1},
       "encoding": {"x": {"field": "p", "type": "quantitative"}, "y": {"field": "lane", "type": "quantitative"}}}
    ],
    "resolve": {"scale": {"shape": "independent"}}
  },
  {
    "width": 408, "height": 202,
    "layer": [
      {
        "layer": [
          {"data": {"name": "B_cov"}, "mark": {"type": "line", "color": "#111", "strokeWidth": 1.1, "clip": true},
           "encoding": {
             "x": {"field": "p", "type": "quantitative", "scale": {"domain": [2397210, 2398573], "nice": false, "zero": false},
                   "axis": {"title": null, "values": [2397400,2397600,2397800,2398000,2398200,2398400], "labelExpr": "(datum.value - 2397600) % 400 === 0 ? format(datum.value/1000, '.1~f') + 'K' : ''", "labelFlush": false}},
             "y": {"field": "r", "type": "quantitative", "scale": {"type": "log", "domain": [1, 1000], "nice": false},
                   "axis": {"title": "# Reads", "values": [10, 100, 1000], "format": "d"}}}},
          {"data": {"name": "B_mk"}, "mark": {"type": "point", "filled": true, "size": 110, "stroke": "#2a2a2a", "strokeWidth": 0.7, "opacity": 1},
           "encoding": {
             "x": {"field": "p", "type": "quantitative"}, "y": {"field": "r", "type": "quantitative"},
             "shape": {"field": "s", "type": "nominal", "scale": {"domain": ["+", "-"], "range": ["M-1,-0.6 L0.15,-0.6 L1,0 L0.15,0.6 L-1,0.6 Z", "M1,-0.6 L-0.15,-0.6 L-1,0 L-0.15,0.6 L1,0.6 Z"]}, "legend": null},
             "fill": {"field": "s", "type": "nominal", "scale": {"domain": ["+", "-"], "range": ["#d0716d", "#6c72c6"]}, "legend": null}}},
          {"data": {"values": [{"p": 2397278, "h": 122, "k": "asRNA"}, {"p": 2398557, "h": 5.8, "k": "rev"}]},
           "layer": [
             {"mark": {"type": "rule", "strokeWidth": 2.5},
              "encoding": {"x": {"field": "p", "type": "quantitative"}, "y": {"field": "h", "type": "quantitative"}, "y2": {"datum": 1},
                           "stroke": {"field": "k", "type": "nominal", "scale": {"domain": ["fwd", "rev", "sRNA", "asRNA"], "range": ["#c42a2f", "#4762b5", "#9c3fa8", "#8dc653"]}, "legend": null}}},
             {"mark": {"type": "point", "filled": true, "size": 400, "opacity": 1, "strokeWidth": 0},
              "encoding": {"x": {"field": "p", "type": "quantitative"}, "y": {"field": "h", "type": "quantitative"},
                           "shape": {"field": "k", "type": "nominal", "scale": {"domain": ["fwd", "rev", "sRNA", "asRNA"], "range": ["M0,0 L0.85,0 L1,0.25 L0.85,0.5 L0,0.5 Z", "M0,0 L-0.85,0 L-1,0.25 L-0.85,0.5 L0,0.5 Z", "M0,0 L0.85,0 L1,0.25 L0.85,0.5 L0,0.5 Z", "M0,0 L0.85,0 L1,0.25 L0.85,0.5 L0,0.5 Z"]}, "legend": null},
                           "fill": {"field": "k", "type": "nominal", "scale": {"domain": ["fwd", "rev", "sRNA", "asRNA"], "range": ["#c42a2f", "#4762b5", "#9c3fa8", "#8dc653"]}, "legend": null}}}
           ],
           "resolve": {"scale": {"shape": "independent", "fill": "independent"}}},
          {"data": {"values": [{}]}, "mark": {"type": "text", "text": "109", "fontSize": 9, "dx": 5, "dy": -8, "color": "#333"},
           "encoding": {"x": {"datum": 2397278}, "y": {"datum": 122}}},
          {"data": {"values": [{}]}, "mark": {"type": "text", "text": "5", "fontSize": 9, "dx": -6, "dy": 14, "color": "#333"},
           "encoding": {"x": {"datum": 2398557}, "y": {"datum": 5.8}}},
          {"data": {"values": [{}]}, "mark": {"type": "text", "text": "B", "fontSize": 17, "fontWeight": "bold", "dx": -60, "dy": -1, "align": "center", "baseline": "middle", "color": "#111"},
           "encoding": {"x": {"datum": 2397210}, "y": {"datum": 1000}}}
        ],
        "resolve": {"scale": {"shape": "independent", "fill": "independent"}}
      },
      {
        "layer": [
          {"data": {"values": [{"x": 0, "x2": 246, "y": 0, "y2": 270}]},
           "mark": {"type": "rect", "filled": false, "stroke": "#333", "strokeWidth": 1.2},
           "encoding": {"x": {"field": "x", "type": "quantitative", "scale": {"domain": [-460, -52], "nice": false, "zero": false}, "axis": null},
                        "x2": {"field": "x2"},
                        "y": {"field": "y", "type": "quantitative", "scale": {"domain": [9, 211], "reverse": true, "nice": false, "zero": false}, "axis": null},
                        "y2": {"field": "y2"}}},
          {"data": {"values": [{"y": 50}, {"y": 91}, {"y": 134}, {"y": 228}]},
           "mark": {"type": "rule", "color": "#333", "strokeWidth": 1.2},
           "encoding": {"x": {"datum": 0}, "x2": {"datum": 246}, "y": {"field": "y", "type": "quantitative"}}},
          {"data": {"values": [
             {"t": "Forward strand ORF", "x": 70, "y": 15.7},
             {"t": "Reverse strand ORF", "x": 70, "y": 37.3},
             {"t": "TSS of ORFs", "x": 70, "y": 63.7},
             {"t": "Red and blue (fwd and rev)", "x": 70, "y": 80.3},
             {"t": "TSS for ncRNAs", "x": 70, "y": 104.7},
             {"t": "Purple, sRNA; green, asRNA", "x": 70, "y": 122.3},
             {"t": "Tiling expression data", "x": 70, "y": 142.3},
             {"t": "Red and blue (fwd and rev)", "x": 70, "y": 160.7},
             {"t": "Operon annotation", "x": 69, "y": 177.3},
             {"t": "asRNA", "x": 69, "y": 197.3},
             {"t": "sRNA", "x": 69, "y": 216.3},
             {"t": "Transcription terminator", "x": 70, "y": 241.3},
             {"t": "Sequencing read coverage", "x": 70, "y": 259.7}]},
           "mark": {"type": "text", "align": "left", "baseline": "middle", "fontSize": 13, "color": "#111"},
           "encoding": {"x": {"field": "x", "type": "quantitative"}, "y": {"field": "y", "type": "quantitative"}, "text": {"field": "t"}}},
          {"data": {"values": [
             {"x": 10, "x2": 56.5, "tip": 56.5, "y": 15.5, "col": "fwd", "s": "+"},
             {"x": 13.5, "x2": 60, "tip": 13.5, "y": 37, "col": "rev", "s": "-"}]},
           "layer": [
             {"mark": {"type": "bar", "stroke": "#333", "strokeWidth": 0.7},
              "encoding": {"x": {"field": "x", "type": "quantitative"}, "x2": {"field": "x2"}, "y": {"field": "y", "type": "quantitative"}, "size": {"value": 9},
                           "fill": {"field": "col", "type": "nominal", "scale": {"domain": ["fwd", "rev", "sRNA", "asRNA", "operon"], "range": ["#c13a3c", "#5d8fd6", "#8a2b8e", "#7fc24a", "#e8c83c"]}, "legend": null}}},
             {"mark": {"type": "point", "filled": true, "size": 81, "stroke": "#333", "strokeWidth": 0.7, "opacity": 1},
              "encoding": {"x": {"field": "tip", "type": "quantitative"}, "y": {"field": "y", "type": "quantitative"},
                           "shape": {"field": "s", "type": "nominal", "scale": {"domain": ["+", "-"], "range": ["M0,-1 L1,0 L0,1 Z", "M0,-1 L-1,0 L0,1 Z"]}, "legend": null},
                           "fill": {"field": "col", "type": "nominal", "legend": null}}}
           ]},
          {"data": {"values": [
             {"x": 16, "x2": 52, "tip": 52, "y": 177.3, "col": "operon", "s": "+"},
             {"x": 16, "x2": 52, "tip": 52, "y": 197.3, "col": "asRNA", "s": "+"},
             {"x": 16, "x2": 52, "tip": 52, "y": 216.3, "col": "sRNA", "s": "+"}]},
           "layer": [
             {"mark": {"type": "bar", "stroke": "#333", "strokeWidth": 0.6},
              "encoding": {"x": {"field": "x", "type": "quantitative"}, "x2": {"field": "x2"}, "y": {"field": "y", "type": "quantitative"}, "size": {"value": 5},
                           "fill": {"field": "col", "type": "nominal", "scale": {"domain": ["fwd", "rev", "sRNA", "asRNA", "operon"], "range": ["#c13a3c", "#5d8fd6", "#8a2b8e", "#7fc24a", "#e8c83c"]}, "legend": null}}},
             {"mark": {"type": "point", "filled": true, "size": 25, "stroke": "#333", "strokeWidth": 0.6, "opacity": 1, "shape": "M0,-1 L1.8,0 L0,1 Z"},
              "encoding": {"x": {"field": "tip", "type": "quantitative"}, "y": {"field": "y", "type": "quantitative"},
                           "fill": {"field": "col", "type": "nominal", "legend": null}}}
           ]},
          {"data": {"values": [
             {"x": 22, "y": 58, "y2": 88, "k": "fwd"},
             {"x": 48, "y": 58, "y2": 88, "k": "rev"},
             {"x": 22, "y": 100, "y2": 131, "k": "sRNA"},
             {"x": 39, "y": 100, "y2": 131, "k": "asRNA"}]},
           "layer": [
             {"mark": {"type": "rule", "strokeWidth": 2.5},
              "encoding": {"x": {"field": "x", "type": "quantitative"}, "y": {"field": "y", "type": "quantitative"}, "y2": {"field": "y2"},
                           "stroke": {"field": "k", "type": "nominal", "scale": {"domain": ["fwd", "rev", "sRNA", "asRNA"], "range": ["#c42a2f", "#4762b5", "#9c3fa8", "#8dc653"]}, "legend": null}}},
             {"mark": {"type": "point", "filled": true, "size": 400, "opacity": 1, "strokeWidth": 0},
              "encoding": {"x": {"field": "x", "type": "quantitative"}, "y": {"field": "y", "type": "quantitative"},
                           "shape": {"field": "k", "type": "nominal", "scale": {"domain": ["fwd", "rev", "sRNA", "asRNA"], "range": ["M0,0 L0.85,0 L1,0.25 L0.85,0.5 L0,0.5 Z", "M0,0 L-0.85,0 L-1,0.25 L-0.85,0.5 L0,0.5 Z", "M0,0 L0.85,0 L1,0.25 L0.85,0.5 L0,0.5 Z", "M0,0 L0.85,0 L1,0.25 L0.85,0.5 L0,0.5 Z"]}, "legend": null},
                           "fill": {"field": "k", "type": "nominal", "scale": {"domain": ["fwd", "rev", "sRNA", "asRNA"], "range": ["#c42a2f", "#4762b5", "#9c3fa8", "#8dc653"]}, "legend": null}}}
           ]},
          {"data": {"values": [{"x": 26, "y": 150.7, "s": "+"}, {"x": 44, "y": 150.7, "s": "-"}]},
           "mark": {"type": "point", "filled": true, "size": 110, "stroke": "#2a2a2a", "strokeWidth": 0.7, "opacity": 1},
           "encoding": {"x": {"field": "x", "type": "quantitative"}, "y": {"field": "y", "type": "quantitative"},
                        "shape": {"field": "s", "type": "nominal", "scale": {"domain": ["+", "-"], "range": ["M-1,-0.6 L0.15,-0.6 L1,0 L0.15,0.6 L-1,0.6 Z", "M1,-0.6 L-0.15,-0.6 L-1,0 L-0.15,0.6 L1,0.6 Z"]}, "legend": null},
                        "fill": {"field": "s", "type": "nominal", "scale": {"domain": ["+", "-"], "range": ["#d0716d", "#6c72c6"]}, "legend": null}}},
          {"data": {"values": [{"x": 39, "y": 240.7}]},
           "mark": {"type": "point", "filled": true, "shape": "M-1,-0.85 L1,0 L-1,0.85 Z", "size": 36, "color": "#111", "opacity": 1},
           "encoding": {"x": {"field": "x", "type": "quantitative"}, "y": {"field": "y", "type": "quantitative"}}},
          {"data": {"values": [
             {"x": 26, "y": 264.7}, {"x": 28, "y": 258}, {"x": 30, "y": 262}, {"x": 32, "y": 255}, {"x": 34, "y": 259}, {"x": 36, "y": 256},
             {"x": 38, "y": 262}, {"x": 40, "y": 258}, {"x": 42, "y": 263}, {"x": 44, "y": 257}, {"x": 46, "y": 254.7}, {"x": 48, "y": 259},
             {"x": 50, "y": 262}, {"x": 53, "y": 264.7}]},
           "mark": {"type": "line", "color": "#111", "strokeWidth": 1},
           "encoding": {"x": {"field": "x", "type": "quantitative"}, "y": {"field": "y", "type": "quantitative"}}}
        ],
        "resolve": {"scale": {"shape": "independent", "fill": "independent", "stroke": "independent"}}
      }
    ],
    "resolve": {"scale": {"x": "independent", "y": "independent", "shape": "independent", "fill": "independent", "stroke": "independent"}, "axis": {"x": "independent", "y": "independent"}}
  },
  {
    "width": 408, "height": 107,
    "data": {"name": "B_genes"},
    "layer": [
      {"transform": [{"filter": "datum.col == 'fwd' || datum.col == 'rev'"}],
       "mark": {"type": "bar", "stroke": "#333", "strokeWidth": 0.7},
       "encoding": {"x": {"field": "start", "type": "quantitative", "scale": {"domain": [2397210, 2398573], "nice": false, "zero": false}, "axis": null},
                    "x2": {"field": "end"},
                    "y": {"field": "lane", "type": "quantitative", "scale": {"domain": [0, 107], "reverse": true, "nice": false, "zero": false}, "axis": null},
                    "size": {"value": 9},
                    "fill": {"field": "col", "type": "nominal", "scale": {"domain": ["fwd", "rev", "sRNA", "asRNA", "operon"], "range": ["#c13a3c", "#5d8fd6", "#8a2b8e", "#7fc24a", "#e8c83c"]}, "legend": null}}},
      {"transform": [{"filter": "datum.col != 'fwd' && datum.col != 'rev'"}],
       "mark": {"type": "bar", "stroke": "#333", "strokeWidth": 0.6},
       "encoding": {"x": {"field": "start", "type": "quantitative"}, "x2": {"field": "end"}, "y": {"field": "lane", "type": "quantitative"},
                    "size": {"value": 6},
                    "fill": {"field": "col", "type": "nominal", "legend": null}}},
      {"transform": [{"filter": "datum.col == 'fwd' || datum.col == 'rev'"}],
       "mark": {"type": "point", "filled": true, "size": 81, "stroke": "#333", "strokeWidth": 0.7, "opacity": 1},
       "encoding": {"x": {"field": "tip", "type": "quantitative"}, "y": {"field": "lane", "type": "quantitative"},
                    "shape": {"field": "s", "type": "nominal", "scale": {"domain": ["+", "-"], "range": ["M0,-1 L1,0 L0,1 Z", "M0,-1 L-1,0 L0,1 Z"]}, "legend": null},
                    "fill": {"field": "col", "type": "nominal", "legend": null}}},
      {"transform": [{"filter": "datum.col != 'fwd' && datum.col != 'rev'"}],
       "mark": {"type": "point", "filled": true, "size": 36, "stroke": "#333", "strokeWidth": 0.6, "opacity": 1},
       "encoding": {"x": {"field": "tip", "type": "quantitative"}, "y": {"field": "lane", "type": "quantitative"},
                    "shape": {"field": "s", "type": "nominal", "scale": {"domain": ["+", "-"], "range": ["M0,-1 L1.8,0 L0,1 Z", "M0,-1 L-1.8,0 L0,1 Z"]}, "legend": null},
                    "fill": {"field": "col", "type": "nominal", "legend": null}}},
      {"transform": [{"filter": "isValid(datum.lx)"}],
       "mark": {"type": "text", "align": "left", "baseline": "middle", "fontSize": 12, "color": "#111"},
       "encoding": {"x": {"field": "lx", "type": "quantitative"}, "y": {"field": "ly", "type": "quantitative"}, "text": {"field": "name"}}}
    ],
    "resolve": {"scale": {"shape": "independent"}}
  },
  {
    "width": 630, "height": 134,
    "layer": [
      {"data": {"name": "C_cov"}, "mark": {"type": "line", "color": "#111", "strokeWidth": 1.1, "clip": true},
       "encoding": {
         "x": {"field": "p", "type": "quantitative", "scale": {"domain": [116909, 119030], "nice": false, "zero": false},
               "axis": {"title": null, "values": [117000,117200,117400,117600,117800,118000,118200,118400,118600,118800,119000], "labelExpr": "(datum.value - 117000) % 400 === 0 ? format(datum.value/1000, '.1~f') + 'K' : ''", "labelFlush": false}},
         "y": {"field": "r", "type": "quantitative", "scale": {"type": "log", "domain": [1, 100], "nice": false},
               "axis": {"title": "# Reads", "values": [10, 100], "format": "d", "titlePadding": 16}}}},
      {"data": {"name": "C_mk"}, "mark": {"type": "point", "filled": true, "size": 110, "stroke": "#2a2a2a", "strokeWidth": 0.7, "opacity": 1},
       "encoding": {
         "x": {"field": "p", "type": "quantitative"}, "y": {"field": "r", "type": "quantitative"},
         "shape": {"field": "s", "type": "nominal", "scale": {"domain": ["+", "-"], "range": ["M-1,-0.6 L0.15,-0.6 L1,0 L0.15,0.6 L-1,0.6 Z", "M1,-0.6 L-0.15,-0.6 L-1,0 L-0.15,0.6 L1,0.6 Z"]}, "legend": null},
         "fill": {"field": "s", "type": "nominal", "scale": {"domain": ["+", "-"], "range": ["#d0716d", "#6c72c6"]}, "legend": null}}},
      {"data": {"values": [{"p": 116938, "h": 16.2, "k": "fwd"}]},
       "layer": [
         {"mark": {"type": "rule", "strokeWidth": 3},
          "encoding": {"x": {"field": "p", "type": "quantitative"}, "y": {"field": "h", "type": "quantitative"}, "y2": {"datum": 1},
                       "stroke": {"field": "k", "type": "nominal", "scale": {"domain": ["fwd", "rev", "sRNA", "asRNA"], "range": ["#c42a2f", "#4762b5", "#9c3fa8", "#8dc653"]}, "legend": null}}},
         {"mark": {"type": "point", "filled": true, "size": 576, "opacity": 1, "strokeWidth": 0, "shape": "M0,0 L0.85,0 L1,0.25 L0.85,0.5 L0,0.5 Z"},
          "encoding": {"x": {"field": "p", "type": "quantitative"}, "y": {"field": "h", "type": "quantitative"},
                       "fill": {"field": "k", "type": "nominal", "scale": {"domain": ["fwd", "rev", "sRNA", "asRNA"], "range": ["#c42a2f", "#4762b5", "#9c3fa8", "#8dc653"]}, "legend": null}}}
       ],
       "resolve": {"scale": {"fill": "independent"}}},
      {"data": {"values": [{}]}, "mark": {"type": "text", "text": "27", "fontSize": 9, "dx": 5, "dy": -10, "color": "#333"},
       "encoding": {"x": {"datum": 116938}, "y": {"datum": 16.2}}},
      {"data": {"values": [{}]}, "mark": {"type": "text", "text": "C", "fontSize": 17, "fontWeight": "bold", "dx": -60, "dy": 1.5, "align": "center", "baseline": "middle", "color": "#111"},
       "encoding": {"x": {"datum": 116909}, "y": {"datum": 100}}}
    ],
    "resolve": {"scale": {"shape": "independent", "fill": "independent"}}
  },
  {
    "width": 630, "height": 63,
    "data": {"name": "C_genes"},
    "layer": [
      {"transform": [{"filter": "datum.col == 'fwd' || datum.col == 'rev'"}],
       "mark": {"type": "bar", "stroke": "#333", "strokeWidth": 0.7},
       "encoding": {"x": {"field": "start", "type": "quantitative", "scale": {"domain": [116909, 119030], "nice": false, "zero": false}, "axis": null},
                    "x2": {"field": "end"},
                    "y": {"field": "lane", "type": "quantitative", "scale": {"domain": [0, 63], "reverse": true, "nice": false, "zero": false}, "axis": null},
                    "size": {"value": 9},
                    "fill": {"field": "col", "type": "nominal", "scale": {"domain": ["fwd", "rev", "sRNA", "asRNA", "operon"], "range": ["#c13a3c", "#5d8fd6", "#8a2b8e", "#7fc24a", "#e8c83c"]}, "legend": null}}},
      {"transform": [{"filter": "datum.col != 'fwd' && datum.col != 'rev'"}],
       "mark": {"type": "bar", "stroke": "#333", "strokeWidth": 0.6},
       "encoding": {"x": {"field": "start", "type": "quantitative"}, "x2": {"field": "end"}, "y": {"field": "lane", "type": "quantitative"},
                    "size": {"value": 6},
                    "fill": {"field": "col", "type": "nominal", "legend": null}}},
      {"transform": [{"filter": "datum.col == 'fwd' || datum.col == 'rev'"}],
       "mark": {"type": "point", "filled": true, "size": 81, "stroke": "#333", "strokeWidth": 0.7, "opacity": 1},
       "encoding": {"x": {"field": "tip", "type": "quantitative"}, "y": {"field": "lane", "type": "quantitative"},
                    "shape": {"field": "s", "type": "nominal", "scale": {"domain": ["+", "-"], "range": ["M0,-1 L1,0 L0,1 Z", "M0,-1 L-1,0 L0,1 Z"]}, "legend": null},
                    "fill": {"field": "col", "type": "nominal", "legend": null}}},
      {"transform": [{"filter": "datum.col != 'fwd' && datum.col != 'rev'"}],
       "mark": {"type": "point", "filled": true, "size": 36, "stroke": "#333", "strokeWidth": 0.6, "opacity": 1},
       "encoding": {"x": {"field": "tip", "type": "quantitative"}, "y": {"field": "lane", "type": "quantitative"},
                    "shape": {"field": "s", "type": "nominal", "scale": {"domain": ["+", "-"], "range": ["M0,-1 L1.8,0 L0,1 Z", "M0,-1 L-1.8,0 L0,1 Z"]}, "legend": null},
                    "fill": {"field": "col", "type": "nominal", "legend": null}}},
      {"transform": [{"filter": "isValid(datum.lx)"}],
       "mark": {"type": "text", "align": "left", "baseline": "middle", "fontSize": 12, "color": "#111"},
       "encoding": {"x": {"field": "lx", "type": "quantitative"}, "y": {"field": "ly", "type": "quantitative"}, "text": {"field": "name"}}},
      {"data": {"values": [{"p": 118986, "lane": 29}]},
       "mark": {"type": "point", "filled": true, "shape": "M-1,-0.85 L1,0 L-1,0.85 Z", "size": 36, "color": "#111", "opacity": 1},
       "encoding": {"x": {"field": "p", "type": "quantitative"}, "y": {"field": "lane", "type": "quantitative"}}}
    ],
    "resolve": {"scale": {"shape": "independent"}}
  }
]
}
